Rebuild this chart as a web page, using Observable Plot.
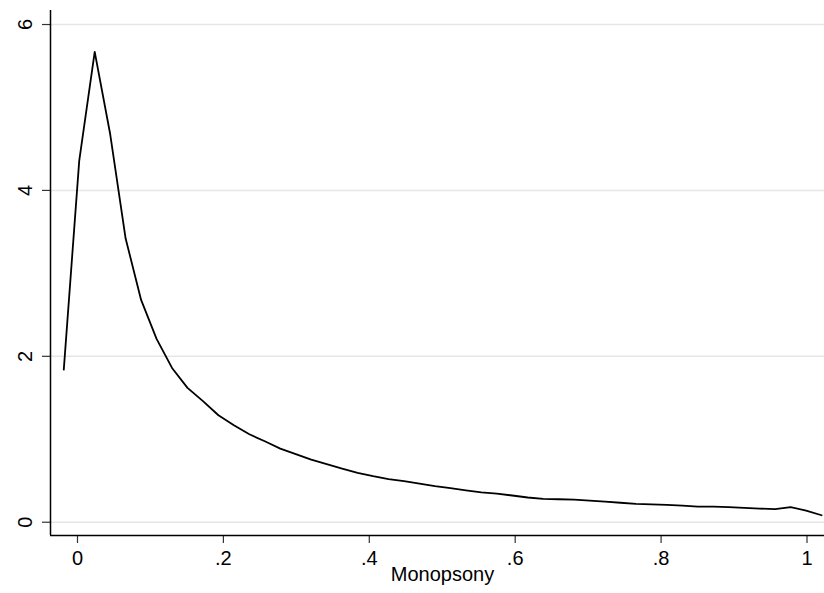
<!DOCTYPE html>
<html>
<head>
<meta charset="utf-8">
<script src="https://cdn.jsdelivr.net/npm/d3@7"></script>
<script src="https://cdn.jsdelivr.net/npm/@observablehq/plot@0.6"></script>
<style>
  html, body { margin: 0; padding: 0; background: #fff; }
  svg { display: block; }
</style>
</head>
<body>
<div id="chart"></div>
<script>
// Kernel density estimate of monopsony (50 evaluation points)
const monopsony = [
  -0.0188, 0.0024, 0.0236, 0.0448, 0.0660, 0.0872, 0.1084, 0.1296, 0.1508, 0.1720,
  0.1932, 0.2144, 0.2356, 0.2568, 0.2780, 0.2992, 0.3204, 0.3416, 0.3628, 0.3840,
  0.4052, 0.4264, 0.4476, 0.4688, 0.4900, 0.5112, 0.5324, 0.5536, 0.5748, 0.5960,
  0.6172, 0.6384, 0.6596, 0.6808, 0.7020, 0.7232, 0.7444, 0.7656, 0.7868, 0.8080,
  0.8292, 0.8504, 0.8716, 0.8928, 0.9140, 0.9352, 0.9564, 0.9776, 0.9988, 1.0200
];
const density = [
  1.84, 4.36, 5.67, 4.68, 3.42, 2.68, 2.21, 1.86, 1.62, 1.46,
  1.29, 1.17, 1.06, 0.976, 0.888, 0.82, 0.755, 0.70, 0.645, 0.595,
  0.555, 0.52, 0.495, 0.465, 0.435, 0.41, 0.385, 0.36, 0.345, 0.322,
  0.298, 0.281, 0.277, 0.273, 0.261, 0.249, 0.235, 0.222, 0.215, 0.208,
  0.200, 0.189, 0.188, 0.181, 0.173, 0.165, 0.157, 0.183, 0.141, 0.084
];
const xTicks = [0, 0.2, 0.4, 0.6, 0.8, 1];
const yTicks = [0, 2, 4, 6];
const xDomain = [-0.037, 1.024];
const yDomain = [-0.16, 6.169];
const xLabel = "Monopsony";

const data = monopsony.map((x, i) => ({x, y: density[i]}));
const fmtX = d => d === 0 ? "0" : (d === 1 ? "1" : String(d).replace(/^0\./, "."));
const FONT = 20;

const chart = Plot.plot({
  width: 824,
  height: 593,
  marginLeft: 50,
  marginRight: 0,
  marginTop: 10,
  marginBottom: 58,
  style: {fontFamily: "'Liberation Sans', Arial, Helvetica, sans-serif", fontSize: FONT + "px", color: "#000", background: "#fff"},
  x: {domain: xDomain},
  y: {domain: yDomain},
  marks: [
    Plot.gridY(yTicks, {stroke: "#e6e6e6", strokeOpacity: 1, strokeWidth: 1.5}),
    Plot.axisX(xTicks, {tickFormat: fmtX, tickSize: 8, tickPadding: 7, stroke: "#333", strokeWidth: 1.2, fontSize: FONT, label: null}),
    Plot.axisY(yTicks, {tickFormat: d => String(d), tickSize: 8, tickPadding: 11, tickRotate: -90, stroke: "#333", strokeWidth: 1.2, fontSize: FONT, label: null}),
    Plot.ruleX([xDomain[0]], {stroke: "#000", strokeWidth: 1.5}),
    Plot.ruleY([yDomain[0]], {stroke: "#000", strokeWidth: 1.5}),
    Plot.line(data, {x: "x", y: "y", stroke: "#000", strokeWidth: 1.8}),
    Plot.text([xLabel], {frameAnchor: "bottom", dx: 5, dy: 45, fontSize: FONT, fill: "#000"})
  ]
});
document.getElementById("chart").appendChild(chart);
</script>
</body>
</html>
